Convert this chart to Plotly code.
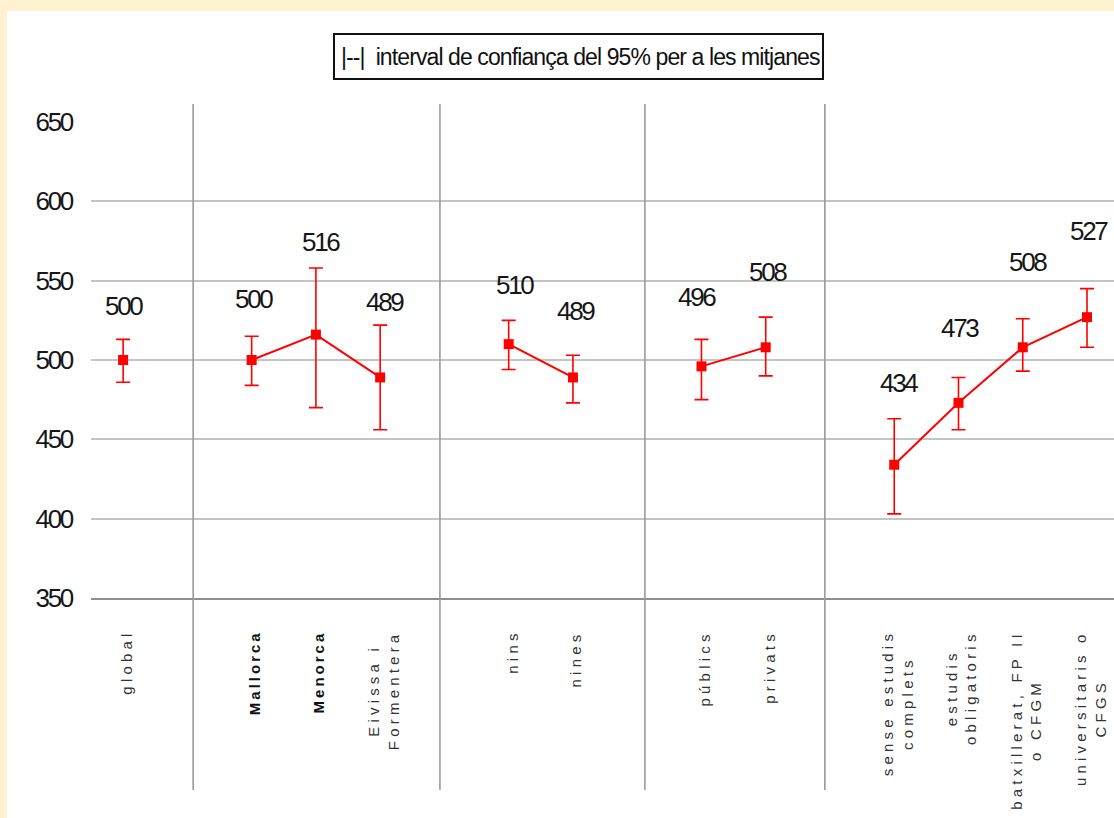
import plotly.graph_objects as go

# ---------------- data ----------------
categories = ["global",
              "Mallorca", "Menorca", "Eivissa i<br>Formentera",
              "nins", "nines",
              "públics", "privats",
              "sense estudis<br>complets", "estudis<br>obligatoris",
              "batxillerat, FP II<br>o CFGM", "universitaris o<br>CFGS"]
group_sizes = [1, 3, 2, 2, 4]
means = [500, 500, 516, 489, 510, 489, 496, 508, 434, 473, 508, 527]
ci_low = [486, 484, 470, 456, 494, 473, 475, 490, 403, 456, 493, 508]
ci_high = [513, 515, 558, 522, 525, 503, 513, 527, 463, 489, 526, 545]
value_labels = ["500", "500", "516", "489", "510", "489", "496", "508", "434", "473", "508", "527"]
y_ticks = [350, 400, 450, 500, 550, 600, 650]
legend_text = "|--|  interval de confiança del 95% per a les mitjanes"
bold_labels = {"Mallorca", "Menorca"}

# ---------------- style ----------------
RED = "#ff0000"
CREAM = "#fff2d0"
label_dy = [54, 61, 93, 75, 59, 66, 69, 75, 82, 75, 85, 86]   # px above marker
label_dx = [0, 1, 4, 4, 5, 2, -5, 1, 4, 1, 4, 1]
separator_offsets = [0.09, -0.07, 0.12, -0.08]  # fine placement of group separators (slot units)
SANS = "Liberation Sans, Arial, sans-serif"

W, H = 1114, 818
L, R, T, B = 91, 0, 122, 220
pw, ph = W - L - R, H - T - B


def narrow(s, ls):
    return '<span style="letter-spacing:%.1fpx">%s</span>' % (ls, s)


# x positions: one slot per category, with one empty slot between groups
xpos = []
seps = []
slot = 0
for gi, n in enumerate(group_sizes):
    for _ in range(n):
        xpos.append(slot)
        slot += 1
    if gi < len(group_sizes) - 1:
        seps.append(slot)
        slot += 1

fig = go.Figure()
start = 0
for n in group_sizes:
    sl = slice(start, start + n)
    xs = xpos[sl]
    ys = means[sl]
    up = [h - m for h, m in zip(ci_high[sl], ys)]
    dn = [m - l for m, l in zip(ys, ci_low[sl])]
    fig.add_trace(go.Scatter(
        x=xs, y=ys, mode="lines+markers",
        line=dict(color=RED, width=2),
        marker=dict(symbol="square", size=10, color=RED),
        error_y=dict(type="data", symmetric=False, array=up, arrayminus=dn,
                     color=RED, thickness=1.6, width=7),
        showlegend=False, hoverinfo="skip"))
    start += n


def py_to_paper(py):
    return (H - B - py) / ph


def px_to_paper_x(px):
    return (px - L) / pw


shapes = []
# white inner panel
shapes.append(dict(type="rect", xref="paper", yref="paper",
                   x0=px_to_paper_x(7), x1=px_to_paper_x(W + 5),
                   y0=py_to_paper(H + 5), y1=py_to_paper(11),
                   fillcolor="white", line=dict(width=0), layer="below"))
# group separators
for s, off in zip(seps, separator_offsets):
    shapes.append(dict(type="line", xref="x", yref="paper",
                       x0=s + off, x1=s + off, y0=py_to_paper(790), y1=py_to_paper(104),
                       line=dict(color="#9a9a9a", width=1.6), layer="above"))
# legend box
shapes.append(dict(type="rect", xref="paper", yref="paper",
                   x0=px_to_paper_x(334), x1=px_to_paper_x(823),
                   y0=py_to_paper(79), y1=py_to_paper(34),
                   fillcolor="white", line=dict(color="#111111", width=2), layer="above"))

annotations = []
annotations.append(dict(xref="paper", yref="paper",
                        x=px_to_paper_x(580), y=py_to_paper(56.5),
                        xanchor="center", yanchor="middle", showarrow=False,
                        text=narrow(legend_text, -0.9),
                        font=dict(family=SANS, size=23, color="#111111")))
# value labels
for x, m, t, dy, dx in zip(xpos, means, value_labels, label_dy, label_dx):
    annotations.append(dict(x=x, y=m, xref="x", yref="y", text=narrow(t, -2.3), showarrow=False,
                            yshift=dy, xshift=dx + 1, xanchor="center", yanchor="middle",
                            font=dict(family=SANS, size=26, color="#161616")))
# category labels (rotated)
for x, c in zip(xpos, categories):
    lines = []
    for ln in c.split("<br>"):
        if c in bold_labels:
            lines.append(narrow("<b>%s</b>" % ln, 3.0))
        else:
            lines.append(narrow(ln, 4.2))
    annotations.append(dict(x=x, y=py_to_paper(628), xref="x", yref="paper",
                            text="<br>".join(lines), showarrow=False, textangle=-90,
                            xanchor="center", yanchor="top", align="center", xshift=3,
                            font=dict(family=SANS, size=15,
                                      color="#111111" if c in bold_labels else "#333333")))

fig.update_layout(
    width=W, height=H,
    margin=dict(l=L, r=R, t=T, b=B, pad=0),
    paper_bgcolor=CREAM, plot_bgcolor="white",
    shapes=shapes, annotations=annotations,
    xaxis=dict(range=[-0.5, 15.42], showgrid=False, zeroline=False,
               showticklabels=False, ticks="",
               showline=True, linecolor="#8e8e8e", linewidth=2),
    yaxis=dict(range=[350, 650], tickvals=y_ticks,
               ticktext=[narrow(str(v), -2.3) for v in y_ticks],
               showgrid=True, gridcolor="#c4c4c4", gridwidth=2, zeroline=False, ticks="",
               showline=False, ticklabelstandoff=18,
               tickfont=dict(family=SANS, size=26, color="#161616")),
)

fig.write_html("out.html", config={"displayModeBar": False},
               post_script="document.body.style.margin='0';document.body.style.overflow='hidden';")
